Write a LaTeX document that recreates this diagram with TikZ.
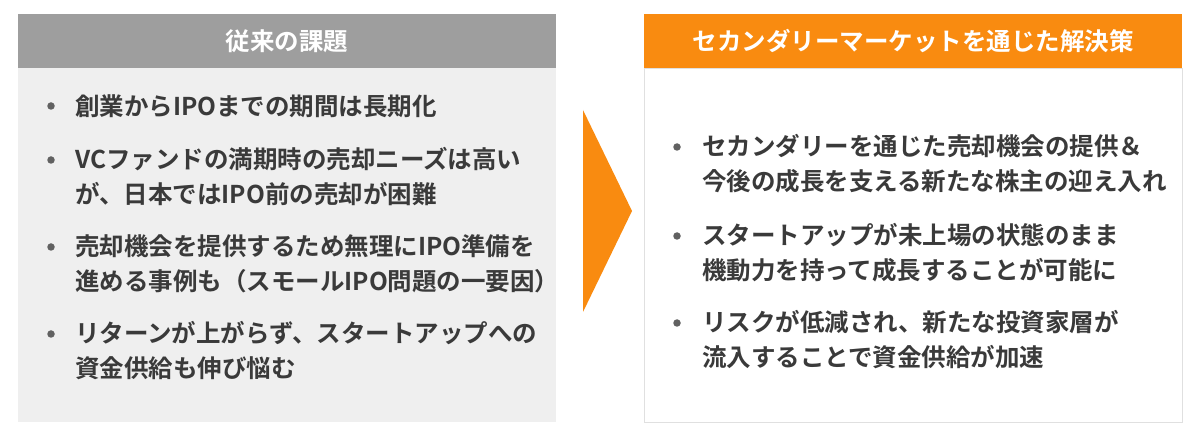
\documentclass[tikz,border=0pt]{standalone}
\usepackage{fontspec}
\newfontfamily\cjk{Noto Sans CJK JP}[BoldFont={Noto Sans CJK JP Bold}]
\definecolor{hdgray}{HTML}{9E9E9E}
\definecolor{bodygray}{HTML}{EFEFEF}
\definecolor{orng}{HTML}{F98B10}
\definecolor{txt}{HTML}{3A3A3A}
\begin{document}
\begin{tikzpicture}[x=1pt,y=-1pt,
  hdr/.style={font=\cjk\bfseries\fontsize{24.5}{28}\selectfont, text=white},
  bl/.style={anchor=west, inner sep=0pt, font=\cjk\bfseries\fontsize{24.5}{35}\selectfont, text=txt, align=left},
  dot/.style={circle, fill=txt!80, inner sep=0pt, minimum size=7.5pt}]
\useasboundingbox (0,0) rectangle (1200,438);
\fill[white] (0,0) rectangle (1200,438);
% left panel
\fill[bodygray] (18,68) rectangle (556,422);
\fill[hdgray] (18,14) rectangle (556,68);
\node[hdr] (lh) at (287,41) {従来の課題};
\node[dot] (ld1) at (51,106) {};
\node[bl] (lt1) at (75,106) {創業からIPOまでの期間は長期化};
\node[dot] (ld2) at (51,160) {};
\node[bl] (lt2) at (75,177) {VCファンドの満期時の売却ニーズは高い\\が、日本ではIPO前の売却が困難};
\node[dot] (ld3) at (51,247) {};
\node[bl] (lt3) at (75,264) {売却機会を提供するため無理にIPO準備を\\進める事例も（スモールIPO問題の一要因）};
\node[dot] (ld4) at (51,334) {};
\node[bl] (lt4) at (75,351) {リターンが上がらず、スタートアップへの\\資金供給も伸び悩む};
% arrow
\fill[orng] (583,110) -- (632,211) -- (583,312) -- cycle;
% right panel
\draw[black!12, fill=white] (644,68) rectangle (1182,422);
\fill[orng] (644,14) rectangle (1182,68);
\node[hdr] (rh) at (913,41) {セカンダリーマーケットを通じた解決策};
\node[dot] (rd1) at (677,147) {};
\node[bl] (rt1) at (702,164) {セカンダリーを通じた売却機会の提供＆\\今後の成長を支える新たな株主の迎え入れ};
\node[dot] (rd2) at (677,236) {};
\node[bl] (rt2) at (702,253) {スタートアップが未上場の状態のまま\\機動力を持って成長することが可能に};
\node[dot] (rd3) at (677,323) {};
\node[bl] (rt3) at (702,340) {リスクが低減され、新たな投資家層が\\流入することで資金供給が加速};
\end{tikzpicture}
\end{document}
